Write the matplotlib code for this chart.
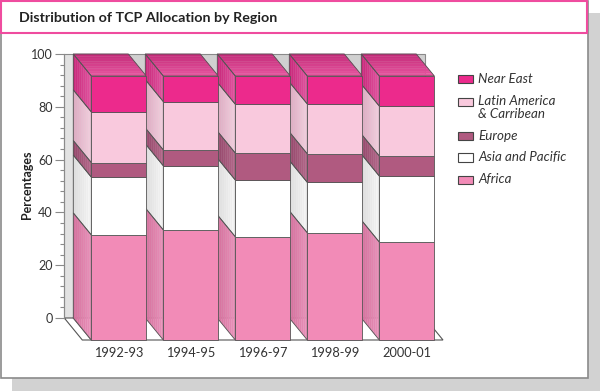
import matplotlib
matplotlib.use("Agg")
import matplotlib.pyplot as plt
import numpy as np
from matplotlib.patches import Rectangle, Polygon
from matplotlib.transforms import ScaledTranslation, IdentityTransform
from matplotlib.ticker import MultipleLocator
from matplotlib.colors import to_rgb

# ---------------- data ----------------
periods = ["1992-93", "1994-95", "1996-97", "1998-99", "2000-01"]
africa = [39.8, 41.7, 39.1, 40.6, 37.1]
asia_pacific = [21.9, 24.3, 21.5, 19.1, 25.0]
europe = [5.5, 6.0, 10.2, 10.8, 7.6]
latin_america = [19.2, 18.3, 18.5, 18.9, 18.9]
near_east = [13.6, 9.7, 10.7, 10.6, 11.4]
series_names = ["Africa", "Asia and Pacific", "Europe",
                "Latin America\n& Carribean", "Near East"]
y_ticks = [0, 20, 40, 60, 80, 100]
title = "Distribution of TCP Allocation by Region"
y_label = "Percentages"

# ---------------- style ----------------
FONT = "Lato"
plt.rcParams["font.family"] = [FONT, "DejaVu Sans"]
front_colors = ["#f28bb7", "#ffffff", "#b05a80", "#f9c9dd", "#ec2a8c"]
side_dark = ["#d46f9c", "#dedede", "#94466a", "#dcaac0", "#c8267a"]
side_light = ["#e992ba", "#f8f8f8", "#b4688a", "#f3cfdf", "#e2539f"]
top_back = "#c22a78"
top_front = "#e8559f"
EDGE = "#555555"
W = 55 / 72.0          # bar width in category units
DX, DY = 18, -22       # depth offset in pixels

W_PX, H_PX = 600, 391
fig = plt.figure(figsize=(W_PX / 100, H_PX / 100), dpi=100)
fig.patch.set_facecolor("white")

def fx(px):
    return px / W_PX

def fy(py):
    return 1 - py / H_PX

# panel shadow, panel, title box
fig.patches.append(Rectangle((fx(12), fy(391)), fx(588), fy(13) - fy(391),
                             transform=fig.transFigure, facecolor="#d2d2d2",
                             edgecolor="none", zorder=0))
fig.patches.append(Rectangle((fx(0.5), fy(378)), fx(587), fy(0.5) - fy(378),
                             transform=fig.transFigure, facecolor="white",
                             edgecolor="#8a8a8a", linewidth=1.2, zorder=1))
fig.patches.append(Rectangle((fx(0.8), fy(32.5)), fx(586.2), fy(1.2) - fy(32.5),
                             transform=fig.transFigure, facecolor="white",
                             edgecolor="#ef4c9f", linewidth=1.5, zorder=2))
fig.text(fx(19), fy(18), title, fontsize=10.3, fontweight="bold",
         color="#222222", va="center", ha="left", zorder=3)

# axes = back plane of the 3D chart
ax_left, ax_right, ax_bottom, ax_top = 73.3, 425.0, 318.0, 54.0
ax = fig.add_axes([fx(ax_left), fy(ax_bottom), fx(ax_right - ax_left),
                   fy(ax_top) - fy(ax_bottom)], zorder=5)
ax.patch.set_alpha(0)
n = len(periods)
x = np.arange(n)
ax.set_xlim(-W / 2, -W / 2 + (ax_right - ax_left) / 72.0)
ax.set_ylim(0, 100)
for s in ["top", "right", "bottom"]:
    ax.spines[s].set_visible(False)
ax.spines["left"].set_position(("outward", 9 * 0.72))
ax.spines["left"].set_color("#8a8a8a")
ax.spines["left"].set_linewidth(0.8)
ax.set_yticks(y_ticks)
ax.yaxis.set_minor_locator(MultipleLocator(4))
ax.tick_params(axis="y", which="major", length=9 * 0.72, width=0.8,
               color="#8a8a8a", labelsize=9, labelcolor="#333333", pad=2)
ax.tick_params(axis="y", which="minor", length=4.5 * 0.72, width=0.8,
               color="#8a8a8a")
ax.set_xticks([])
fig.text(fx(27), fy(185), y_label, rotation=90, fontsize=9,
         fontweight="bold", color="#222222", ha="center", va="center")

fig.canvas.draw()
T = ax.transData
ID = IdentityTransform()

def disp(pts):
    return T.transform(np.asarray(pts, dtype=float))

# back wall (gray), left wall strip and floor
bl = disp([(ax.get_xlim()[0], 0)])[0]
tr = disp([(ax.get_xlim()[1], 100)])[0]
ax.add_patch(Polygon([(bl[0], bl[1]), (tr[0], bl[1]), (tr[0], tr[1]), (bl[0], tr[1])],
                     closed=True, transform=ID, facecolor="#d0d0d0",
                     edgecolor="#8a8a8a", linewidth=0.8, zorder=1, clip_on=False))
wall_w = 9
ax.add_patch(Polygon([(bl[0] - wall_w, bl[1]), (bl[0], bl[1]), (bl[0], tr[1]),
                      (bl[0] - wall_w, tr[1])], closed=True, transform=ID,
                     facecolor="#e2e2e2", edgecolor="#8a8a8a", linewidth=0.8,
                     zorder=2, clip_on=False))
floor = [(bl[0] - wall_w, bl[1]), (tr[0], bl[1]), (tr[0] + DX, bl[1] + DY),
         (bl[0] - wall_w + DX, bl[1] + DY)]
ax.add_patch(Polygon(floor, closed=True, transform=ID, facecolor="white",
                     edgecolor="#555555", linewidth=0.8, zorder=2, clip_on=False))
ax.plot([bl[0], bl[0] + DX], [bl[1], bl[1] + DY], transform=ID, color="#555555",
        linewidth=0.8, zorder=2, clip_on=False)

def mix(c1, c2, t):
    a, b = np.array(to_rgb(c1)), np.array(to_rgb(c2))
    return tuple(a + (b - a) * t)

stack = [africa, asia_pacific, europe, latin_america, near_east]
front_tr = T + ScaledTranslation(DX / 100, DY / 100, fig.dpi_scale_trans)
NS = 9
for i in range(n):
    z = 10 + i * 3
    bottom = 0.0
    for k, vals in enumerate(stack):
        v = vals[i]
        top = bottom + v
        # side face (left), gradient strips
        p0, p1 = disp([(x[i] - W / 2, bottom), (x[i] - W / 2, top)])
        for s in range(NS):
            a, b = s / NS, (s + 1) / NS
            poly = [(p0[0] + DX * a, p0[1] + DY * a), (p0[0] + DX * b, p0[1] + DY * b),
                    (p1[0] + DX * b, p1[1] + DY * b), (p1[0] + DX * a, p1[1] + DY * a)]
            col = mix(side_dark[k], side_light[k], (s + 0.5) / NS)
            ax.add_patch(Polygon(poly, closed=True, transform=ID, facecolor=col,
                                 edgecolor=col, linewidth=0.2, zorder=z, clip_on=False))
        ax.add_patch(Polygon([p0, (p0[0] + DX, p0[1] + DY), (p1[0] + DX, p1[1] + DY), p1],
                             closed=True, transform=ID, facecolor="none",
                             edgecolor=EDGE, linewidth=0.6, zorder=z + 0.5,
                             clip_on=False))
        bottom = top
    # top face
    q0, q1 = disp([(x[i] - W / 2, 100), (x[i] + W / 2, 100)])
    for s in range(NS):
        a, b = s / NS, (s + 1) / NS
        poly = [(q0[0] + DX * a, q0[1] + DY * a), (q1[0] + DX * a, q1[1] + DY * a),
                (q1[0] + DX * b, q1[1] + DY * b), (q0[0] + DX * b, q0[1] + DY * b)]
        col = mix(top_back, top_front, (s + 0.5) / NS)
        ax.add_patch(Polygon(poly, closed=True, transform=ID, facecolor=col,
                             edgecolor=col, linewidth=0.2, zorder=z, clip_on=False))
    ax.add_patch(Polygon([q0, q1, (q1[0] + DX, q1[1] + DY), (q0[0] + DX, q0[1] + DY)],
                         closed=True, transform=ID, facecolor="none", edgecolor=EDGE,
                         linewidth=0.6, zorder=z + 0.5, clip_on=False))

# front faces
bottom = np.zeros(n)
for k, vals in enumerate(stack):
    bars = ax.bar(x, vals, bottom=bottom, width=W, color=front_colors[k],
                  edgecolor=EDGE, linewidth=0.6, transform=front_tr, zorder=30)
    for b in bars:
        b.set_clip_on(False)
    bottom = bottom + np.array(vals)

# category labels under the front faces
label_tr = front_tr + ScaledTranslation(0, -13 / 100, fig.dpi_scale_trans)
for i in range(n):
    ax.text(x[i], 0, periods[i], transform=label_tr,
            ha="center", va="center", fontsize=9.2, color="#333333")

# legend (top to bottom: Near East ... Africa)
legend_rows = [(4, 79), (3, 101.5), (2, 135.5), (1, 157.5), (0, 179.5)]
for k, py in legend_rows:
    fig.patches.append(Rectangle((fx(458), fy(py + 4)), fx(15), fy(py - 4) - fy(py + 4),
                                 transform=fig.transFigure, facecolor=front_colors[k],
                                 edgecolor="#444444", linewidth=0.8, zorder=6))
    multi = "\n" in series_names[k]
    fig.text(fx(478), fy(py - 6.5) if multi else fy(py), series_names[k],
             fontsize=9.6, fontstyle="italic", color="#333333", ha="left",
             va="top" if multi else "center", linespacing=1.1, zorder=6)
ax.set_xlim(-W / 2, -W / 2 + (ax_right - ax_left) / 72.0)
ax.set_ylim(0, 100)
fig.savefig("out.png", dpi=100, facecolor="white")
